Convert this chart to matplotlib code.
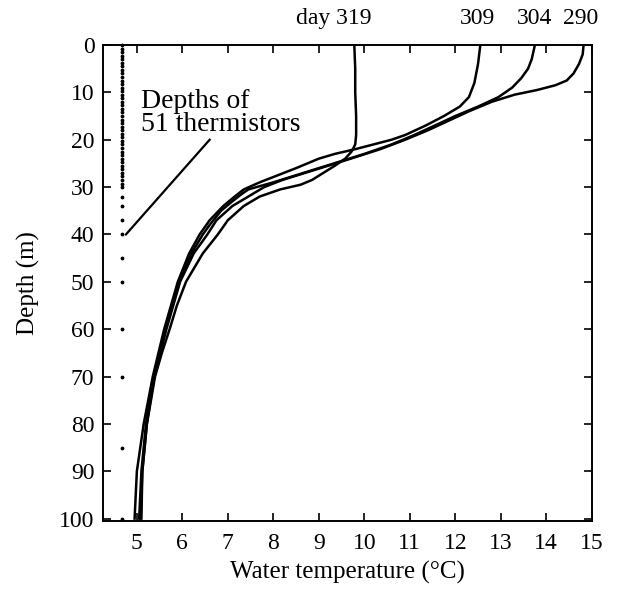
import numpy as np
import matplotlib.pyplot as plt

plt.rcParams['font.family'] = ['Liberation Serif', 'DejaVu Serif']

# Temperature profiles (depth in m, temperature in deg C)
depth_309 = [0, 4, 8, 11, 13, 15, 17, 19, 20, 21, 22, 23, 24, 25, 26, 27.5, 29, 30.5,
             32, 34, 37, 40, 44, 50, 60, 70, 80, 90, 100]
temp_309 = [12.55, 12.5, 12.42, 12.3, 12.1, 11.75, 11.35, 10.9, 10.6, 10.2, 9.8, 9.35, 9.0,
            8.75, 8.5, 8.1, 7.7, 7.35, 7.15, 6.9, 6.6, 6.38, 6.15, 5.9, 5.6, 5.35, 5.15, 5.0, 4.95]

depth_304 = [0, 3, 5, 7, 9, 11, 13, 15, 17, 19, 21, 23, 24.5, 26, 27.5, 29, 30.5, 31.5,
             33, 35, 38, 40, 44, 50, 60, 70, 80, 90, 100]
temp_304 = [13.75, 13.68, 13.6, 13.45, 13.25, 12.95, 12.5, 12.0, 11.55, 11.1, 10.6, 10.0, 9.5,
            9.0, 8.5, 8.0, 7.45, 7.3, 7.1, 6.85, 6.6, 6.45, 6.2, 5.93, 5.62, 5.37, 5.2, 5.1, 5.05]

depth_290 = [0, 2, 4, 6, 7.5, 8.5, 9.5, 10.5, 12, 14, 16, 18, 20, 22, 24, 25.5, 27, 28.5,
             30, 32, 34, 37, 40, 44, 50, 60, 70, 80, 90, 100]
temp_290 = [14.82, 14.8, 14.72, 14.6, 14.45, 14.2, 13.8, 13.3, 12.8, 12.3, 11.85, 11.4, 10.9,
            10.35, 9.7, 9.2, 8.7, 8.2, 7.8, 7.45, 7.1, 6.75, 6.55, 6.25, 5.95, 5.65, 5.38,
            5.22, 5.12, 5.08]

depth_319 = [0, 5, 10, 15, 19, 21, 22.5, 24, 25.5, 27, 28.5, 29.5, 30.5, 32, 34, 37, 40, 44,
             50, 55, 60, 65, 70, 80, 90, 100]
temp_319 = [9.78, 9.8, 9.8, 9.82, 9.82, 9.8, 9.72, 9.58, 9.35, 9.1, 8.85, 8.6, 8.15, 7.7,
            7.35, 7.0, 6.78, 6.45, 6.08, 5.88, 5.72, 5.55, 5.4, 5.22, 5.12, 5.1]

# Thermistor depths
thermistor_depths = list(np.arange(0, 30.01, 0.75)) + [32, 34, 37, 40, 45, 50, 60, 70, 85, 100]
thermistor_x = 4.68

day_labels = ['day 319', '309', '304', '290']
day_label_x = [10.15, 12.48, 13.75, 14.76]

fig = plt.figure(figsize=(6.19, 5.92), dpi=100)
ax = fig.add_axes([0.166, 0.12, 0.790, 0.804])

for t, d in [(temp_290, depth_290), (temp_304, depth_304),
             (temp_309, depth_309), (temp_319, depth_319)]:
    ax.plot(t, d, color='black', lw=1.8)

ax.scatter([thermistor_x] * len(thermistor_depths), thermistor_depths,
           s=3, color='black', zorder=3, clip_on=False)

ax.text(5.1, 19.5, 'Depths of\n51 thermistors', fontsize=20, ha='left', va='bottom',
        linespacing=0.9)
ax.plot([4.76, 6.6], [40, 20], color='black', lw=1.6)

for lab, x in zip(day_labels, day_label_x):
    ha = 'right' if lab.startswith('day') else 'center'
    ax.text(x, 1.055, lab, transform=ax.get_xaxis_transform(), fontsize=17,
            ha=ha, va='center')

ax.set_xlim(4.25, 15)
ax.set_ylim(100.5, 0)
ax.set_xticks(range(5, 16))
ax.set_yticks(range(0, 101, 10))
ax.tick_params(direction='in', length=6, width=1.2, top=True, right=True,
               labelsize=17, pad=9)
ax.tick_params(axis='y', pad=6)
for s in ax.spines.values():
    s.set_linewidth(1.4)

ax.set_xlabel('Water temperature (°C)', fontsize=18, labelpad=5)
ax.set_ylabel('Depth (m)', fontsize=18, labelpad=14)

fig.savefig('out.png', dpi=100)
